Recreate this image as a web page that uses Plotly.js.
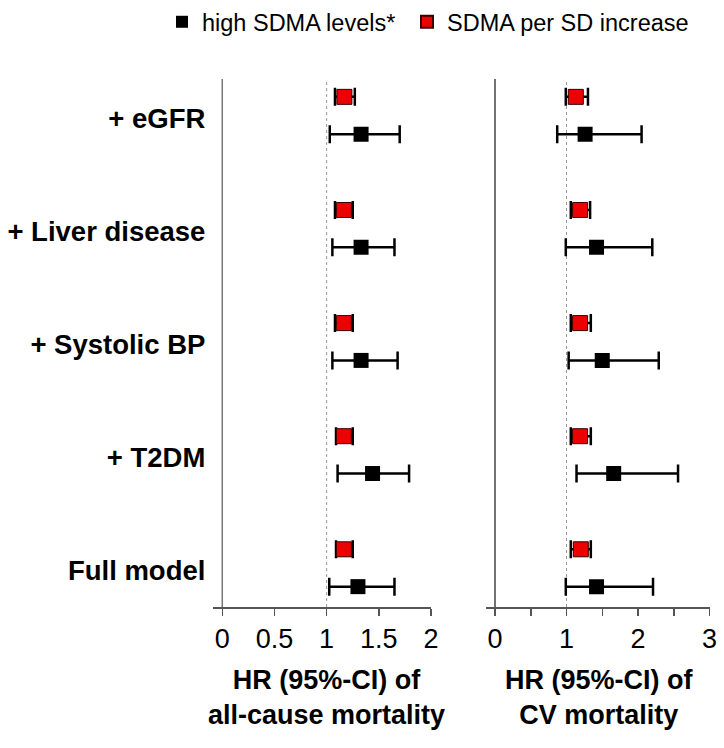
<!DOCTYPE html>
<html>
<head>
<meta charset="utf-8">
<script src="https://cdn.plot.ly/plotly-3.0.1.min.js"></script>
<style>html,body{margin:0;padding:0;background:#fff;}#chart{width:724px;height:748px;}</style>
</head>
<body>
<div id="chart"></div>
<script>
// ---- Data ----
const categories = ['+ eGFR', '+ Liver disease', '+ Systolic BP', '+ T2DM', 'Full model'];
const seriesNames = ['high SDMA levels*', 'SDMA per SD increase'];

// All-cause mortality (left panel)
const allHighHR = [1.33, 1.33, 1.33, 1.44, 1.30];
const allHighLo = [1.03, 1.055, 1.055, 1.105, 1.025];
const allHighHi = [1.70, 1.65, 1.68, 1.79, 1.65];
const allSdHR   = [1.17, 1.165, 1.165, 1.165, 1.165];
const allSdLo   = [1.08, 1.08, 1.08, 1.09, 1.09];
const allSdHi   = [1.27, 1.25, 1.25, 1.25, 1.25];

// CV mortality (right panel)
const cvHighHR = [1.26, 1.42, 1.50, 1.66, 1.42];
const cvHighLo = [0.87, 0.99, 1.03, 1.14, 0.99];
const cvHighHi = [2.05, 2.20, 2.29, 2.56, 2.21];
const cvSdHR   = [1.13, 1.19, 1.19, 1.19, 1.20];
const cvSdLo   = [0.99, 1.06, 1.06, 1.06, 1.06];
const cvSdHi   = [1.30, 1.33, 1.34, 1.34, 1.34];

const leftTicks = [0, 0.5, 1, 1.5, 2];
const leftTickText = ['0', '0.5', '1', '1.5', '2'];
const rightTicks = [0, 0.5, 1, 1.5, 2, 2.5, 3];
const rightTickText = ['0', '', '1', '', '2', '', '3'];

const leftTitle = 'HR (95%-CI) of<br>all-cause mortality';
const rightTitle = 'HR (95%-CI) of<br>CV mortality';

// ---- Build ----
const FONT = 'Liberation Sans, Arial, Helvetica, sans-serif';
const n = categories.length;
const groupPos = categories.map((c, i) => n - 1 - i);
const OFF = 0.165;
const yRed = groupPos.map(p => p + OFF);
const yBlack = groupPos.map(p => p - OFF);

function trace(hr, lo, hi, y, name, isRed, xa, ya, showleg, leg) {
  return {
    type: 'scatter', mode: 'markers', x: hr, y: y, name: name,
    xaxis: xa, yaxis: ya, showlegend: showleg, legend: leg, hoverinfo: 'skip',
    marker: isRed
      ? {symbol: 'square', size: 15, color: '#ee0000', line: {color: '#3a0000', width: 1}}
      : {symbol: 'square', size: 15, color: '#000000', line: {width: 0}},
    error_x: {
      type: 'data', symmetric: false,
      array: hi.map((v, i) => v - hr[i]),
      arrayminus: lo.map((v, i) => hr[i] - v),
      color: '#000', thickness: 2.5, width: 9
    }
  };
}

const data = [
  trace(allHighHR, allHighLo, allHighHi, yBlack, seriesNames[0], false, 'x', 'y', true, 'legend'),
  trace(allSdHR, allSdLo, allSdHi, yRed, seriesNames[1], true, 'x', 'y', true, 'legend2'),
  trace(cvHighHR, cvHighLo, cvHighHi, yBlack, seriesNames[0], false, 'x2', 'y2', false, 'legend'),
  trace(cvSdHR, cvSdLo, cvSdHi, yRed, seriesNames[1], true, 'x2', 'y2', false, 'legend2')
];

const W = 724, H = 748, T = 6;
const PH = H - T; // plot-area height
const py = px => 1 - (px - T) / PH; // page pixel row -> plot fraction
const yDomain = [py(607), py(79)];
const yRange = [-0.345, 4.323];
const axisCol = '#555';

const xCommon = {
  showgrid: false, zeroline: false, showline: true, linecolor: axisCol, linewidth: 1.5,
  ticks: 'outside', ticklen: 7, tickwidth: 1.5, tickcolor: axisCol,
  tickfont: {family: FONT, size: 27, color: '#000'}, fixedrange: true
};

const legendCommon = {
  orientation: 'h', xanchor: 'left', y: py(0), yanchor: 'top',
  font: {family: FONT, size: 23.5, color: '#000'}, itemsizing: 'constant',
  bgcolor: 'rgba(0,0,0,0)'
};

const layout = {
  width: W, height: H,
  margin: {l: 0, r: 0, t: T, b: 0},
  paper_bgcolor: '#fff', plot_bgcolor: '#fff',
  font: {family: FONT, color: '#000'},
  showlegend: true,
  legend: Object.assign({}, legendCommon, {x: 162 / W}),
  legend2: Object.assign({}, legendCommon, {x: 407 / W}),
  xaxis: Object.assign({}, xCommon, {
    domain: [213.4 / W, 431 / W], range: [-0.085, 2], anchor: 'y',
    tickmode: 'array', tickvals: leftTicks, ticktext: leftTickText
  }),
  xaxis2: Object.assign({}, xCommon, {
    domain: [486 / W, 709.5 / W], range: [-0.126, 3], anchor: 'y2',
    tickmode: 'array', tickvals: rightTicks, ticktext: rightTickText
  }),
  yaxis: {
    domain: yDomain, range: yRange, anchor: 'x',
    showgrid: false, zeroline: false, showline: false, ticks: '',
    tickmode: 'array', tickvals: groupPos.map(p => p - 0.022), ticktext: categories,
    tickfont: {family: FONT, size: 27.5, color: '#000', weight: 'bold'},
    ticklabelstandoff: 7, fixedrange: true
  },
  yaxis2: {
    domain: yDomain, range: yRange, anchor: 'x2',
    showgrid: false, zeroline: false, showline: false, ticks: '',
    showticklabels: false, fixedrange: true
  },
  shapes: [
    {type: 'line', xref: 'x', yref: 'y domain', x0: 0, x1: 0, y0: 0, y1: 1, line: {color: '#777', width: 1.5}, layer: 'below'},
    {type: 'line', xref: 'x2', yref: 'y2 domain', x0: 0, x1: 0, y0: 0, y1: 1, line: {color: '#444', width: 1.5}, layer: 'below'},
    {type: 'line', xref: 'x', yref: 'y domain', x0: 1, x1: 1, y0: 0, y1: 1, line: {color: '#999', width: 1, dash: '3px,3px'}, layer: 'below'},
    {type: 'line', xref: 'x2', yref: 'y2 domain', x0: 1, x1: 1, y0: 0, y1: 1, line: {color: '#999', width: 1, dash: '3px,3px'}, layer: 'below'}
  ],
  annotations: [
    {xref: 'paper', yref: 'paper', x: 326.5 / W, y: py(697), xanchor: 'center', yanchor: 'middle',
     text: leftTitle, showarrow: false, align: 'center',
     font: {family: FONT, size: 27, color: '#000', weight: 'bold'}},
    {xref: 'paper', yref: 'paper', x: 599 / W, y: py(697), xanchor: 'center', yanchor: 'middle',
     text: rightTitle, showarrow: false, align: 'center',
     font: {family: FONT, size: 27, color: '#000', weight: 'bold'}}
  ]
};

Plotly.newPlot('chart', data, layout, {displayModeBar: false, staticPlot: true});
</script>
</body>
</html>
